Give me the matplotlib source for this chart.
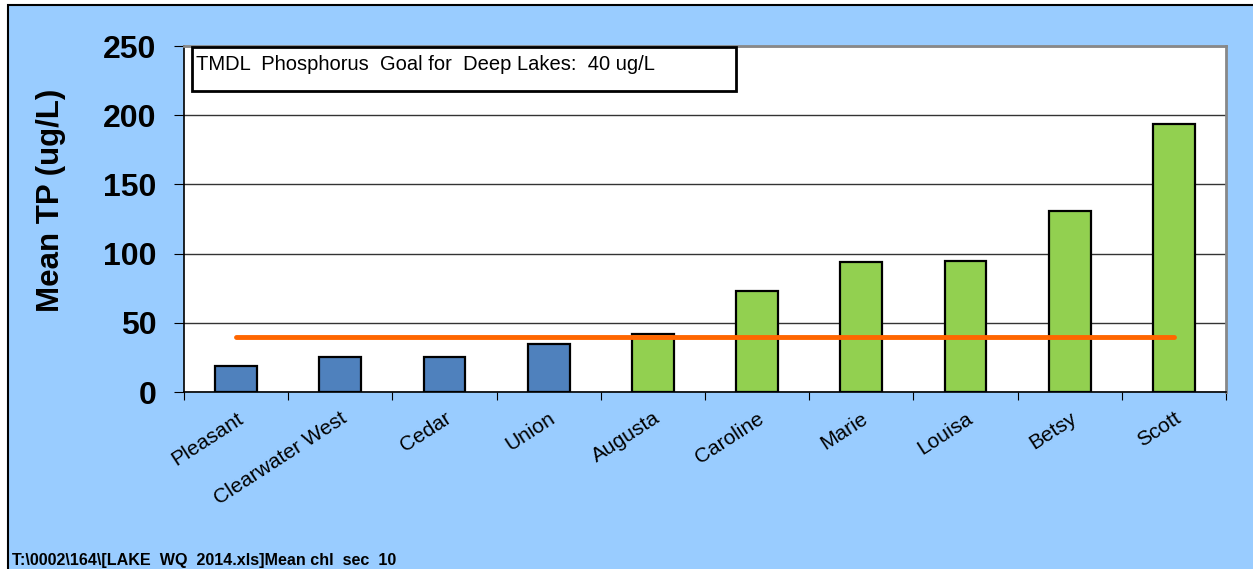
import matplotlib.pyplot as plt
from matplotlib.patches import Rectangle

plt.rcParams['font.family'] = ['Liberation Sans', 'DejaVu Sans']

lakes = ['Pleasant', 'Clearwater West', 'Cedar', 'Union', 'Augusta',
         'Caroline', 'Marie', 'Louisa', 'Betsy', 'Scott']
mean_tp = [19, 25, 25, 35, 42, 73, 94, 95, 131, 194]
deep_lake = [False, False, False, False, True, True, True, True, True, True]
goal = 40
yticks = [0, 50, 100, 150, 200, 250]

bg = '#99CCFF'
W, H = 1253, 569
fig = plt.figure(figsize=(W / 100, H / 100), dpi=100, facecolor='white')

# blue chart panel, its right and bottom edges run off the canvas
fig.add_artist(Rectangle((8 / W, -0.1), 1.2, 1.1 - 5 / H, transform=fig.transFigure,
                         facecolor=bg, edgecolor='black', linewidth=1.5, zorder=-1))

ax = fig.add_axes([184 / W, 1 - 392 / H, (1226 - 184) / W, (392 - 46) / H])
ax.set_zorder(2)
ax.set_facecolor('white')

colors = ['#92D050' if d else '#4F81BD' for d in deep_lake]
x = list(range(len(lakes)))
ax.bar(x, mean_tp, width=0.4, color=colors, edgecolor='black', linewidth=1.6, zorder=3)
ax.plot([x[0], x[-1]], [goal, goal], color='#FF6600', linewidth=3.5,
        solid_capstyle='round', zorder=4)

ax.set_xlim(-0.5, len(lakes) - 0.5)
ax.set_ylim(0, 250)
ax.set_yticks(yticks)
ax.set_yticklabels([str(t) for t in yticks], fontsize=23, fontweight='bold')
ax.yaxis.grid(True, color='#333333', linewidth=1.0, zorder=0)
ax.set_axisbelow(True)

# category ticks sit between bars, labels at the bar centres
ax.set_xticks([i - 0.5 for i in range(len(lakes) + 1)])
ax.set_xticklabels([])
ax.set_xticks(x, minor=True)
ax.set_xticklabels(lakes, minor=True, rotation=33, ha='right',
                   rotation_mode='anchor', fontsize=15)
ax.tick_params(axis='x', which='minor', length=0, pad=12)
ax.tick_params(axis='x', which='major', length=6, direction='out')
ax.tick_params(axis='y', length=7, direction='out', pad=13)

for s in ['left', 'bottom']:
    ax.spines[s].set_color('black')
    ax.spines[s].set_linewidth(1.2)
for s in ['right', 'top']:
    ax.spines[s].set_color('#888888')
    ax.spines[s].set_linewidth(2)

ax.set_ylabel('Mean TP (ug/L)', fontsize=22.5, fontweight='bold')
ax.yaxis.set_label_coords(-0.113, 0.555)

# goal note box
ax.add_patch(Rectangle((0.0077, 0.870), 0.522, 0.127, transform=ax.transAxes,
                       facecolor='white', edgecolor='black', linewidth=2, zorder=5))
ax.text(0.0115, 0.946, 'TMDL  Phosphorus  Goal for  Deep Lakes:  40 ug/L',
        transform=ax.transAxes, fontsize=14.5, va='center', ha='left', zorder=6)

fig.text(12 / W, 1 / H, 'T:\\0002\\164\\[LAKE  WQ  2014.xls]Mean chl  sec  10',
         fontsize=11.6, fontweight='bold', ha='left', va='bottom')

fig.savefig('out.png', dpi=100, facecolor='white')
